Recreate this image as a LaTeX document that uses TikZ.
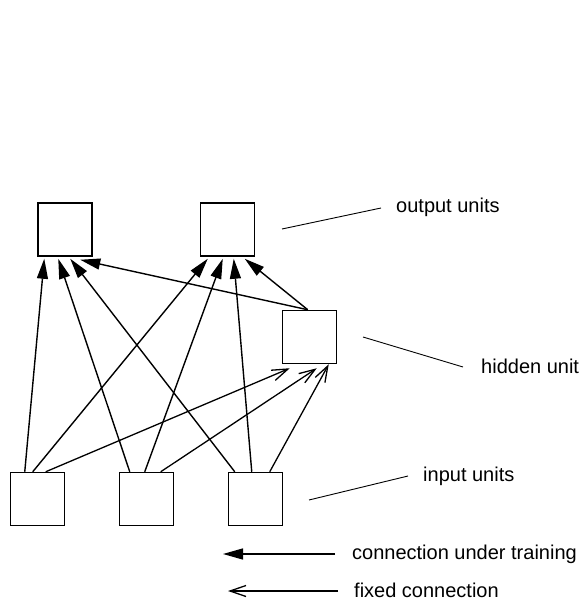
\documentclass[tikz,border=0pt]{standalone}
\usepackage{fontspec}
\setmainfont{Liberation Sans}
\usetikzlibrary{arrows.meta}
\begin{document}
\begin{tikzpicture}[x=1pt,y=-1pt,
  unit/.style={draw,line width=1.5pt,minimum width=54pt,minimum height=53pt,inner sep=0pt,fill=white},
  train/.style={line width=1.4pt,-{Triangle[length=20pt,width=11pt]}},
  fixed/.style={line width=1.3pt,-{Straight Barb[length=16pt,width=11pt,line width=1.3pt]}},
  leader/.style={line width=0.9pt},
  lbl/.style={anchor=base west,inner sep=0pt,font=\fontsize{20}{24}\selectfont}]
\useasboundingbox (0,0) rectangle (583,602);
% units
\node[unit] (O1) at (65,229.5) {};
\node[unit] (O2) at (227.5,229.5) {};
\node[unit] (H) at (309.5,337) {};
\node[unit] (I1) at (37.5,499) {};
\node[unit] (I2) at (146.5,499) {};
\node[unit] (I3) at (255.5,499) {};
% connections under training
\draw[train] ([xshift=15pt]I1.north west) -- ([xshift=7pt,yshift=-2pt]O1.south west);
\draw[train] ([xshift=11pt]I2.north west) -- ([xshift=21pt,yshift=-2pt]O1.south west);
\draw[train] ([xshift=7pt]I3.north west) -- ([xshift=33pt,yshift=-2pt]O1.south west);
\draw[train] ([xshift=26pt]H.north west) -- ([xshift=43pt,yshift=-3pt]O1.south west);
\draw[train] ([xshift=23pt]I1.north west) -- ([xshift=8pt,yshift=-2pt]O2.south west);
\draw[train] ([xshift=26pt]I2.north west) -- ([xshift=23pt,yshift=-2pt]O2.south west);
\draw[train] ([xshift=24pt]I3.north west) -- ([xshift=34pt,yshift=-2pt]O2.south west);
\draw[train] ([xshift=26pt]H.north west) -- ([xshift=45pt,yshift=-2pt]O2.south west);
% fixed connections
\draw[fixed] ([xshift=36pt]I1.north west) -- ([xshift=8pt,yshift=-4pt]H.south west);
\draw[fixed] ([xshift=42pt]I2.north west) -- ([xshift=35pt,yshift=-4pt]H.south west);
\draw[fixed] ([xshift=42pt]I3.north west) -- ([xshift=47pt]H.south west);
% labels
\node[lbl] (tout) at (396,212) {output units};
\node[lbl] (thid) at (481,373) {hidden unit};
\node[lbl] (tin) at (423,481) {input units};
\coordinate (lo1) at (282,229); \coordinate (lo2) at (381,208);
\coordinate (lh1) at (363,337); \coordinate (lh2) at (463,367);
\coordinate (li1) at (309,500); \coordinate (li2) at (408,476);
\draw[leader] (lo1) -- (lo2);
\draw[leader] (lh1) -- (lh2);
\draw[leader] (li1) -- (li2);
% legend
\node[lbl] (ltrain) at (352,559) {connection under training};
\node[lbl] (lfixed) at (354,597) {fixed connection};
\coordinate (a1) at (335,554); \coordinate (a2) at (223,554);
\coordinate (b1) at (338,591); \coordinate (b2) at (228,591);
\draw[train] (a1) -- (a2);
\draw[fixed] (b1) -- (b2);
\end{tikzpicture}
\end{document}
